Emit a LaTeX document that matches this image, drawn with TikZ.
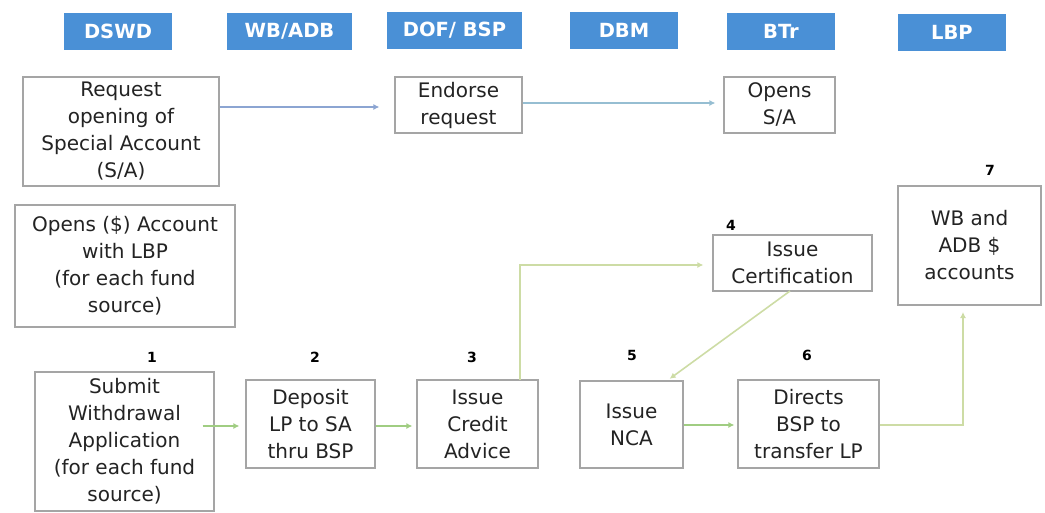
\documentclass[tikz,border=0pt]{standalone}
\usepackage{fontspec}
\setmainfont{DejaVu Sans}
\usetikzlibrary{arrows.meta}
\definecolor{hdr}{RGB}{74,144,214}
\definecolor{boxgray}{RGB}{165,165,165}
\definecolor{textc}{RGB}{35,35,35}
\definecolor{bluearr}{RGB}{140,165,210}
\definecolor{tealarr}{RGB}{150,190,210}
\definecolor{greenarr}{RGB}{160,205,130}
\definecolor{palegreen}{RGB}{205,220,165}
\begin{document}
\begin{tikzpicture}[x=1pt,y=-1pt,
  hdrbox/.style={fill=hdr, draw=none, text=white, inner sep=0pt, minimum height=37pt,
    font=\bfseries\fontsize{19.5}{22}\selectfont},
  box/.style={draw=boxgray, line width=1.2pt, fill=white, inner sep=0pt, align=center,
    text=textc, font=\fontsize{20}{27}\selectfont},
  num/.style={text=black, inner sep=0pt, font=\bfseries\fontsize{14}{16}\selectfont},
  arr/.style={line width=1.6pt, -{Latex[length=6pt,width=6pt]}},
]
\useasboundingbox (0,0) rectangle (1045,512);

% header row
\node[hdrbox, minimum width=108pt] (hdswd) at (118,31.5) {DSWD};
\node[hdrbox, minimum width=125pt] (hwb) at (289.5,31) {WB/ADB};
\node[hdrbox, minimum width=135pt] (hdof) at (454.5,30.5) {DOF/ BSP};
\node[hdrbox, minimum width=108pt] (hdbm) at (624,30.5) {DBM};
\node[hdrbox, minimum width=108pt] (hbtr) at (781,31) {BTr};
\node[hdrbox, minimum width=108pt] (hlbp) at (952,32) {LBP};

% top row boxes
\node[box, minimum width=196pt, minimum height=109pt] (req) at (121,131.5)
  {Request\\opening of\\Special Account\\(S/A)};
\node[box, minimum width=127pt, minimum height=56pt] (endo) at (458.5,105)
  {Endorse\\request};
\node[box, minimum width=111pt, minimum height=56pt] (opsa) at (779.5,105)
  {Opens\\S/A};
\node[box, minimum width=220pt, minimum height=122pt] (lbpacc) at (125,266)
  {Opens (\$) Account\\with LBP\\(for each fund\\source)};

% bottom row
\node[box, minimum width=179pt, minimum height=139pt] (sub) at (124.5,441.5)
  {Submit\\Withdrawal\\Application\\(for each fund\\source)};
\node[box, minimum width=129pt, minimum height=88pt] (dep) at (310.5,424)
  {Deposit\\LP to SA\\thru BSP};
\node[box, minimum width=121pt, minimum height=88pt] (cred) at (477.5,424)
  {Issue\\Credit\\Advice};
\node[box, minimum width=159pt, minimum height=56pt] (cert) at (792.5,263)
  {Issue\\Certification};
\node[box, minimum width=103pt, minimum height=87pt] (nca) at (631.5,424.5)
  {Issue\\NCA};
\node[box, minimum width=141pt, minimum height=88pt] (dir) at (808.5,424)
  {Directs\\BSP to\\transfer LP};
\node[box, minimum width=143pt, minimum height=119pt] (wb) at (969.5,245.5)
  {WB and\\ADB \$\\accounts};

% numbers
\node[num] (n1) at (152,357) {1};
\node[num] (n2) at (315,357) {2};
\node[num] (n3) at (472,357) {3};
\node[num] (n4) at (731,225) {4};
\node[num] (n5) at (632,355) {5};
\node[num] (n6) at (807,355) {6};
\node[num] (n7) at (990,170) {7};

% connectors
\draw[arr, draw=bluearr, shorten >=15pt] (req.east |- 0,107) -- (endo.west |- 0,107);
\draw[arr, draw=tealarr, shorten >=8pt] (endo.east |- 0,103) -- (opsa.west |- 0,103);
\draw[arr, draw=greenarr, shorten >=6pt] ([xshift=-12pt]sub.east |- 0,426) -- (dep.west |- 0,426);
\draw[arr, draw=greenarr, shorten >=4pt] (dep.east |- 0,426) -- (cred.west |- 0,426);
\coordinate (c3) at (520,380);
\draw[arr, draw=palegreen, shorten >=9pt] (c3) -- (520,265) -- (cert.west |- 0,265);
\draw[arr, draw=palegreen, shorten >=2pt] (790,291) -- (668,380);
\draw[arr, draw=greenarr, shorten >=3pt] (nca.east |- 0,425) -- (dir.west |- 0,425);
\draw[arr, draw=palegreen, shorten >=7pt] (dir.east |- 0,425) -- (963,425) -- (963,305);
\end{tikzpicture}
\end{document}
